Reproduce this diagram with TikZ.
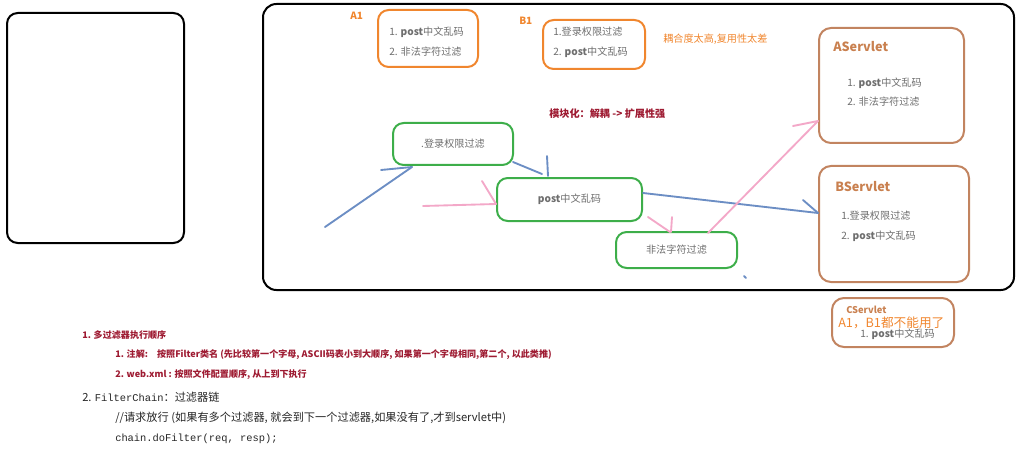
\documentclass[tikz,border=0pt]{standalone}
\usepackage{fontspec}
\setmainfont{Noto Sans CJK SC}
\setmonofont{Liberation Mono}
\definecolor{dred}{HTML}{9E1B32}
\definecolor{org}{HTML}{F0862E}
\definecolor{brn}{HTML}{C28460}
\definecolor{grn}{HTML}{3DAE4A}
\definecolor{blu}{HTML}{6C8EC4}
\definecolor{pnk}{HTML}{F3A8C8}
\definecolor{txtg}{HTML}{6E6E6E}
\definecolor{aserv}{HTML}{C9804F}
\begin{document}
\begin{tikzpicture}[x=0.75pt,y=-0.75pt,
  frame/.style={draw=black,line width=1.5pt,rounded corners=8pt,inner sep=0pt},
  obox/.style={draw=org,line width=1.5pt,rounded corners=8pt,inner sep=0pt},
  sbox/.style={draw=brn,line width=1.5pt,rounded corners=9pt,inner sep=0pt},
  gbox/.style={draw=grn,line width=1.5pt,rounded corners=8pt,inner sep=0pt,text=txtg,font=\fontsize{7.6pt}{9pt}\selectfont},
  itm/.style={anchor=west,inner sep=0pt,text=txtg,font=\fontsize{7.6pt}{9pt}\selectfont},
  lbl/.style={anchor=west,inner sep=0pt,text=org,font=\bfseries\fontsize{7.5pt}{9pt}\selectfont},
  slbl/.style={anchor=west,inner sep=0pt,text=aserv,font=\bfseries\fontsize{9.5pt}{11pt}\selectfont},
  note/.style={anchor=west,inner sep=0pt,text=dred,font=\bfseries\fontsize{6.8pt}{8pt}\selectfont},
  body/.style={anchor=west,inner sep=0pt,text=black!85,font=\fontsize{8.4pt}{10pt}\selectfont},
  barr/.style={draw=blu,line width=1.4pt,line cap=round},
  parr/.style={draw=pnk,line width=1.4pt,line cap=round}]
\useasboundingbox (0,0) rectangle (1020,449);

% frames
\node[frame,minimum width=132.75pt,minimum height=172.5pt] (left) at (95.5,128) {};
\node[frame,minimum width=563.25pt,minimum height=214.5pt,rounded corners=10pt] (big) at (638.5,147) {};

% A1 / B1
\node[lbl] (a1l) at (350,16) {A1};
\node[obox,minimum width=75pt,minimum height=42.75pt] (a1) at (428,38.5) {};
\node[itm] (a1i1) at (389,32) {1. \textbf{post}中文乱码};
\node[itm] (a1i2) at (389,52) {2. 非法字符过滤};

\node[lbl] (b1l) at (519,21) {B1};
\node[obox,minimum width=76.5pt,minimum height=36.75pt] (b1) at (594,44.5) {};
\node[itm] (b1i1) at (553,32) {1.登录权限过滤};
\node[itm] (b1i2) at (553,52) {2. \textbf{post}中文乱码};

\node[anchor=west,inner sep=0pt,text=org,font=\fontsize{7.6pt}{9pt}\selectfont] (cpl) at (663,39) {耦合度太高,复用性太差};
\node[note,font=\bfseries\fontsize{7.6pt}{9pt}\selectfont] (mod) at (549,114) {模块化：解耦 -> 扩展性强};

% servlets
\node[sbox,minimum width=108.75pt,minimum height=86.25pt] (as) at (891.5,85.5) {};
\node[slbl] (asl) at (833,47) {AServlet};
\node[itm] (asi1) at (847,83) {1. \textbf{post}中文乱码};
\node[itm] (asi2) at (847,102) {2. 非法字符过滤};

\node[sbox,minimum width=112.5pt,minimum height=87pt] (bs) at (894,224) {};
\node[slbl] (bsl) at (835,187) {BServlet};
\node[itm] (bsi1) at (841,216) {1.登录权限过滤};
\node[itm] (bsi2) at (841,236) {2. \textbf{post}中文乱码};

\node[sbox,minimum width=91.5pt,minimum height=36.75pt] (cs) at (893,322.5) {};
\node[anchor=west,inner sep=0pt,text=aserv,font=\bfseries\fontsize{7pt}{8pt}\selectfont] (csl) at (846,310) {CServlet};
\node[itm] (csi1) at (860,334) {1. \textbf{post}中文乱码};
\node[anchor=west,inner sep=0pt,text=org,font=\fontsize{9.5pt}{11pt}\selectfont] (csn) at (838,323) {A1，B1都不能用了};

% green filters
\node[gbox,minimum width=90pt,minimum height=31.5pt] (login) at (453,144) {.登录权限过滤};
\node[gbox,minimum width=108.75pt,minimum height=32.25pt] (post) at (569.5,199.5) {\textbf{post}中文乱码};
\node[gbox,minimum width=90.75pt,minimum height=27pt] (ill) at (676.5,250) {非法字符过滤};

% blue arrows
\coordinate (bA) at (325,227);
\coordinate (bAe) at (412,167);
\coordinate (bAt) at (381,170);
\draw[barr] (bA) -- (bAe);
\draw[barr] (bAt) -- (bAe);
\coordinate (bBs) at (513,162);
\coordinate (bBe) at (542,174);
\coordinate (bBt) at (547,156);
\coordinate (bBt2) at (548,176);
\draw[barr] (bBs) -- (bBe);
\draw[barr] (bBt) -- (bBt2);
\coordinate (bCs) at (643,193);
\coordinate (bCe) at (818,213);
\coordinate (bCt) at (803,200);
\draw[barr] (bCs) -- (bCe);
\draw[barr] (bCt) -- (bCe);
\coordinate (dot1) at (744,276);
\coordinate (dot2) at (746,278);
\draw[barr] (dot1) -- (dot2);

% pink arrows
\coordinate (pA) at (423,206);
\coordinate (pAe) at (496,204);
\coordinate (pAt) at (482,181);
\draw[parr] (pA) -- (pAe);
\draw[parr] (pAt) -- (pAe);
\coordinate (pBs) at (648,217);
\coordinate (pBe) at (670,232);
\coordinate (pBt) at (672,217);
\coordinate (pBt2) at (671,232);
\draw[parr] (pBs) -- (pBe);
\draw[parr] (pBt) -- (pBt2);
\coordinate (pCs) at (708,233);
\coordinate (pCe) at (818,121);
\coordinate (pCt) at (793,126);
\draw[parr] (pCs) -- (pCe);
\draw[parr] (pCt) -- (pCe);

% bottom notes
\node[note] (n1) at (82,335) {1. 多过滤器执行顺序};
\node[note] (n11) at (115,355) {1. 注解:\quad 按照Filter类名 (先比较第一个字母, ASCII码表小到大顺序, 如果第一个字母相同,第二个, 以此类推)};
\node[note] (n12) at (115,375) {2. web.xml : 按照文件配置顺序, 从上到下执行};
\node[body] (n2) at (82,397) {2. {\fontsize{7.8pt}{9pt}\ttfamily FilterChain}：过滤器链};
\node[body] (n21) at (115,418) {//请求放行 (如果有多个过滤器, 就会到下一个过滤器,如果没有了,才到servlet中)};
\node[body,font=\fontsize{7.8pt}{9pt}\ttfamily] (n22) at (115,439) {chain.doFilter(req, resp);};
\end{tikzpicture}
\end{document}
